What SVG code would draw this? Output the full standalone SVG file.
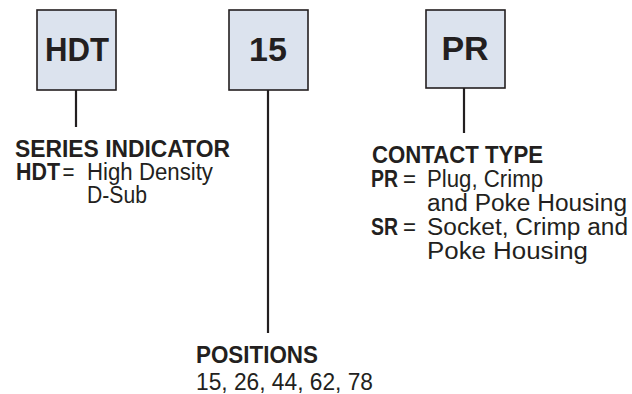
<svg xmlns="http://www.w3.org/2000/svg" width="632" height="394" viewBox="0 0 632 394">
<style>
.box{fill:#dce3ee;stroke:#231f20;stroke-width:1.6}
.lbl{font-family:"Liberation Sans",Arial,sans-serif;font-weight:bold;font-size:34px;fill:#231f20;text-anchor:middle}
.h{font-family:"Liberation Sans",Arial,sans-serif;font-weight:bold;font-size:23px;fill:#231f20}
.t{font-family:"Liberation Sans",Arial,sans-serif;font-size:23.5px;fill:#231f20}
.b{font-weight:bold}
.conn{stroke:#231f20;stroke-width:2.2;fill:none}
</style>
<g id="node-hdt">
<rect class="box" x="37" y="10" width="79" height="80"/>
<text class="lbl" x="77" y="61" textLength="64" lengthAdjust="spacingAndGlyphs">HDT</text>
</g>
<g id="node-15">
<rect class="box" x="229" y="10" width="79" height="80"/>
<text class="lbl" x="268" y="61">15</text>
</g>
<g id="node-pr">
<rect class="box" x="426" y="10" width="79" height="78"/>
<text class="lbl" x="465" y="60">PR</text>
</g>
<g id="connectors">
<line class="conn" x1="76" y1="90" x2="76" y2="127"/>
<line class="conn" x1="268" y1="90" x2="268" y2="333"/>
<line class="conn" x1="464" y1="88" x2="464" y2="133"/>
</g>
<g id="series-text">
<text class="h" x="15" y="157" textLength="215" lengthAdjust="spacingAndGlyphs">SERIES INDICATOR</text>
<text class="t b" x="16" y="180" textLength="44" lengthAdjust="spacingAndGlyphs">HDT</text>
<text class="t" x="62.5" y="180" textLength="12" lengthAdjust="spacingAndGlyphs">=</text>
<text class="t" x="87" y="180" textLength="126" lengthAdjust="spacingAndGlyphs">High Density</text>
<text class="t" x="87" y="203" textLength="60" lengthAdjust="spacingAndGlyphs">D-Sub</text>
</g>
<g id="contact-text">
<text class="h" x="372" y="163" textLength="171" lengthAdjust="spacingAndGlyphs">CONTACT TYPE</text>
<text class="t b" x="371" y="187" textLength="27" lengthAdjust="spacingAndGlyphs">PR</text>
<text class="t" x="403" y="187" textLength="13" lengthAdjust="spacingAndGlyphs">=</text>
<text class="t" x="427" y="187" textLength="116" lengthAdjust="spacingAndGlyphs">Plug, Crimp</text>
<text class="t" x="427" y="211" textLength="200" lengthAdjust="spacingAndGlyphs">and Poke Housing</text>
<text class="t b" x="371" y="235" textLength="27" lengthAdjust="spacingAndGlyphs">SR</text>
<text class="t" x="403" y="235" textLength="13" lengthAdjust="spacingAndGlyphs">=</text>
<text class="t" x="427" y="235" textLength="201" lengthAdjust="spacingAndGlyphs">Socket, Crimp and</text>
<text class="t" x="427" y="259" textLength="161" lengthAdjust="spacingAndGlyphs">Poke Housing</text>
</g>
<g id="positions-text">
<text class="h" x="196" y="363" textLength="122" lengthAdjust="spacingAndGlyphs">POSITIONS</text>
<text class="t" x="196" y="390" textLength="177" lengthAdjust="spacingAndGlyphs">15, 26, 44, 62, 78</text>
</g>
</svg>
